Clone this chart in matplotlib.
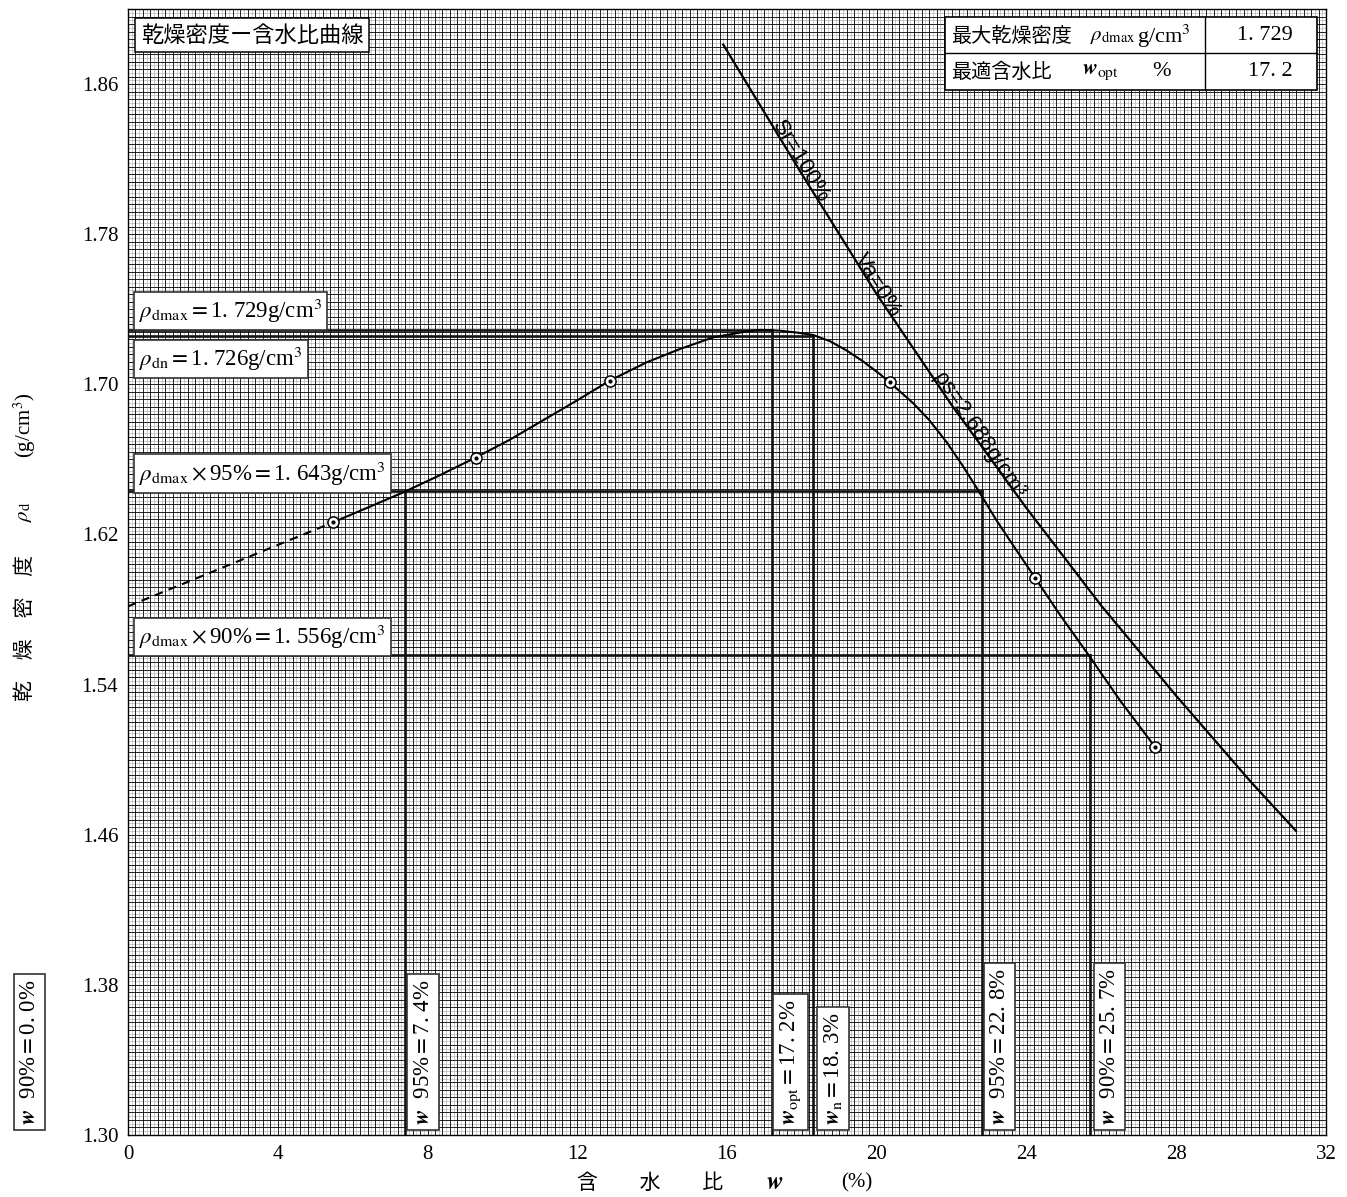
import numpy as np
import matplotlib
matplotlib.use("Agg")
import matplotlib.pyplot as plt
from matplotlib.patches import Rectangle
from matplotlib.lines import Line2D

plt.rcParams['font.family'] = ['Liberation Serif', 'Noto Sans CJK JP']
plt.rcParams['mathtext.fontset'] = 'stix'

CJK = ['Noto Sans CJK JP', 'DejaVu Sans']

# test results (w %, rho_d g/cm3)
w_points = [5.48, 9.29, 12.87, 20.35, 24.24, 27.44]
rho_points = [1.6265, 1.661, 1.702, 1.701, 1.5966, 1.5066]

# compaction curve traced from the sheet
w_dash = [0.0, 2.74, 5.48]
rho_dash = [1.5817, 1.6041, 1.6265]
w_curve = [5.48, 6.4, 7.35, 8.3, 9.29, 10.2, 11.1, 12.0, 12.87, 13.85, 14.74,
           15.63, 16.52, 16.9, 17.41, 17.9, 18.3, 18.75, 19.2, 19.65, 20.08,
           20.35, 20.97, 21.4, 21.87, 22.3, 22.71, 23.2, 23.7, 24.24, 24.9,
           25.65, 26.5, 27.44]
rho_curve = [1.6265, 1.6343, 1.6424, 1.6513, 1.661, 1.6705, 1.681, 1.6915,
             1.702, 1.7117, 1.7188, 1.725, 1.7282, 1.729, 1.7286, 1.7275,
             1.7263, 1.723, 1.718, 1.712, 1.7055, 1.701, 1.690, 1.681, 1.6691,
             1.6565, 1.6435, 1.6275, 1.6125, 1.5966, 1.577, 1.556, 1.5315,
             1.5066]

# zero air void curve (Sr=100%)
w_zav = [15.9, 18.0, 20.0, 22.0, 24.0, 26.0, 28.0, 30.0, 31.2]
rho_zav = [1.881, 1.812, 1.748, 1.689, 1.634, 1.582, 1.534, 1.488, 1.462]

rho_dmax = 1.729
rho_dn = 1.726
rho_95 = 1.643
rho_90 = 1.556
w_opt = 17.2
w_n = 18.3
w_95 = [7.4, 22.8]
w_90 = [0.0, 25.7]

xticks = [0, 4, 8, 12, 16, 20, 24, 28, 32]
yticks = [1.30, 1.38, 1.46, 1.54, 1.62, 1.70, 1.78, 1.86]
ytick_labels = ['1.30', '1.38', '1.46', '1.54', '1.62', '1.70', '1.78', '1.86']

W, H = 1347, 1197
fig = plt.figure(figsize=(W / 100, H / 100), dpi=100)
ax = fig.add_axes([128 / W, 1 - 1135 / H, (1326 - 128) / W, (1135 - 9) / H])
ax.set_xlim(0, 32)
ax.set_ylim(1.30, 1.90)


def fpos(px, py):
    return px / W, 1 - py / H


# graph paper
gx = np.arange(0, 32.0001, 0.1)
gy = np.arange(1.30, 1.9001, 0.002)
ax.vlines(gx[1::2], 1.30, 1.90, color='#b8b8b8', lw=0.5, zorder=0)
ax.hlines(gy[1::2], 0, 32, color='#b8b8b8', lw=0.5, zorder=0)
ax.vlines(gx[::2], 1.30, 1.90, color='#000000', lw=0.6, zorder=0)
ax.hlines(gy[::2], 0, 32, color='#000000', lw=0.6, zorder=0)

ax.set_xticks(xticks)
ax.set_xticklabels([str(t) for t in xticks], fontsize=15)
ax.set_yticks(yticks)
ax.set_yticklabels(ytick_labels, fontsize=15)
ax.tick_params(length=0, pad=7)
for s in ax.spines.values():
    s.set_linewidth(1.0)

# reference lines
lk = dict(color='#111111', lw=1.9, zorder=3)
ax.plot([0, w_opt], [rho_dmax, rho_dmax], **lk)
ax.plot([w_opt, w_opt], [1.30, rho_dmax], **lk)
ax.plot([0, w_n], [rho_dn, rho_dn], **lk)
ax.plot([w_n, w_n], [1.30, rho_dn], **lk)
ax.plot([0, w_95[1]], [rho_95, rho_95], **lk)
ax.plot([w_95[0], w_95[0]], [1.30, rho_95], **lk)
ax.plot([w_95[1], w_95[1]], [1.30, rho_95], **lk)
ax.plot([0, w_90[1]], [rho_90, rho_90], **lk)
ax.plot([w_90[1], w_90[1]], [1.30, rho_90], **lk)

# curves
ax.plot(w_dash, rho_dash, color='black', lw=1.5, ls=(0, (4, 3)), zorder=4)
ax.plot(w_curve, rho_curve, color='black', lw=1.5, zorder=4)
ax.plot(w_zav, rho_zav, color='black', lw=1.6, zorder=4)
ax.plot(w_points, rho_points, 'o', ms=8, mfc='white', mec='black', mew=1.1, zorder=5)
ax.plot(w_points, rho_points, 'o', ms=2, color='black', zorder=6)

# labels on the zero air void line
for wl, txt in [(17.2, 'Sr=100%'), (19.4, 'Va=0%'), (21.5, 'ρs=2.688g/cm³')]:
    yl = np.interp(wl, w_zav, rho_zav)
    dy = np.interp(wl + 0.3, w_zav, rho_zav) - np.interp(wl - 0.3, w_zav, rho_zav)
    ang = np.degrees(np.arctan2(dy, 0.6))
    ax.text(wl, yl, txt, rotation=ang, transform_rotates_text=True,
            rotation_mode='anchor', ha='left', va='baseline', fontsize=16,
            family='Liberation Sans', zorder=7)

box = dict(boxstyle='square,pad=0.22', fc='white', ec='#333333', lw=1.2)
ax.text(0.3, 1.739, r'$\rho_{\rm dmax}=$1. 729g/cm$^3$', fontsize=16.5, va='center', bbox=box, zorder=8)
ax.text(0.3, 1.7135, r'$\rho_{\rm dn}=$1. 726g/cm$^3$', fontsize=16.5, va='center', bbox=box, zorder=8)
ax.text(0.3, 1.6525, r'$\rho_{\rm dmax}\times$95%$=$1. 643g/cm$^3$', fontsize=16.5, va='center', bbox=box, zorder=8)
ax.text(0.3, 1.5655, r'$\rho_{\rm dmax}\times$90%$=$1. 556g/cm$^3$', fontsize=16.5, va='center', bbox=box, zorder=8)

vlabels = [
    (w_95[0] + 0.48, r'$\mathbfit{w}$  95%$=$7. 4%'),
    (w_opt + 0.49, r'$\mathbfit{w}_{\rm opt}=$17. 2%'),
    (w_n + 0.52, r'$\mathbfit{w}_{\rm n}=$18. 3%'),
    (w_95[1] + 0.48, r'$\mathbfit{w}$  95%$=$22. 8%'),
    (w_90[1] + 0.52, r'$\mathbfit{w}$  90%$=$25. 7%'),
    (w_90[0] - 2.63, r'$\mathbfit{w}$  90%$=$0. 0%'),
]
for xl, txt in vlabels:
    ax.text(xl, 1.3055, txt, rotation=90, ha='center', va='bottom', fontsize=16.5,
            bbox=box, zorder=8, clip_on=False)

# title box
fig.text(*fpos(141, 35), '乾燥密度ー含水比曲線', family=CJK, fontsize=16, va='center',
         bbox=dict(boxstyle='square,pad=0.25', fc='white', ec='black', lw=1.1), zorder=10)

# summary table
x0, x1, xm = 945, 1317, 1205
y0, y1, ym = 17, 90, 53
fig.add_artist(Rectangle(fpos(x0, y1), (x1 - x0) / W, (y1 - y0) / H, transform=fig.transFigure,
                         fc='white', ec='black', lw=1.2, zorder=9))
fig.add_artist(Line2D([x0 / W, x1 / W], [1 - ym / H] * 2, transform=fig.transFigure,
                      color='black', lw=1.0, zorder=10))
fig.add_artist(Line2D([xm / W] * 2, [1 - y0 / H, 1 - y1 / H], transform=fig.transFigure,
                      color='black', lw=1.0, zorder=10))
tk = dict(va='center', zorder=11)
fig.text(*fpos(951, 36), '最大乾燥密度', family=CJK, fontsize=14.5, **tk)
fig.text(*fpos(1090, 37), r'$\rho_{\rm dmax}$', fontsize=15, **tk)
fig.text(*fpos(1137, 36), r'g/cm$^3$', fontsize=16, **tk)
fig.text(*fpos(1293, 36), '1. 729', fontsize=16, ha='right', **tk)
fig.text(*fpos(951, 72), '最適含水比', family=CJK, fontsize=14.5, **tk)
fig.text(*fpos(1082, 72), r'$\mathbfit{w}_{\rm opt}$', fontsize=16, **tk)
fig.text(*fpos(1152, 72), '%', fontsize=16, **tk)
fig.text(*fpos(1293, 72), '17. 2', fontsize=16, ha='right', **tk)

# axis titles
fig.text(*fpos(25, 628), '乾　燥　密　度', family=CJK, fontsize=15, rotation=90, ha='center', va='center')
fig.text(*fpos(25, 512), r'$\rho_{\rm d}$', fontsize=15, rotation=90, ha='center', va='center')
fig.text(*fpos(25, 425), r'(g/cm$^3$)', fontsize=15, rotation=90, ha='center', va='center')
fig.text(*fpos(650, 1183), '含　　水　　比', family=CJK, fontsize=15, ha='center', va='center')
fig.text(*fpos(775, 1183), r'$\mathbfit{w}$', fontsize=18, ha='center', va='center')
fig.text(*fpos(857, 1183), '(%)', fontsize=15, ha='center', va='center')

fig.savefig('out.png', dpi=100)
